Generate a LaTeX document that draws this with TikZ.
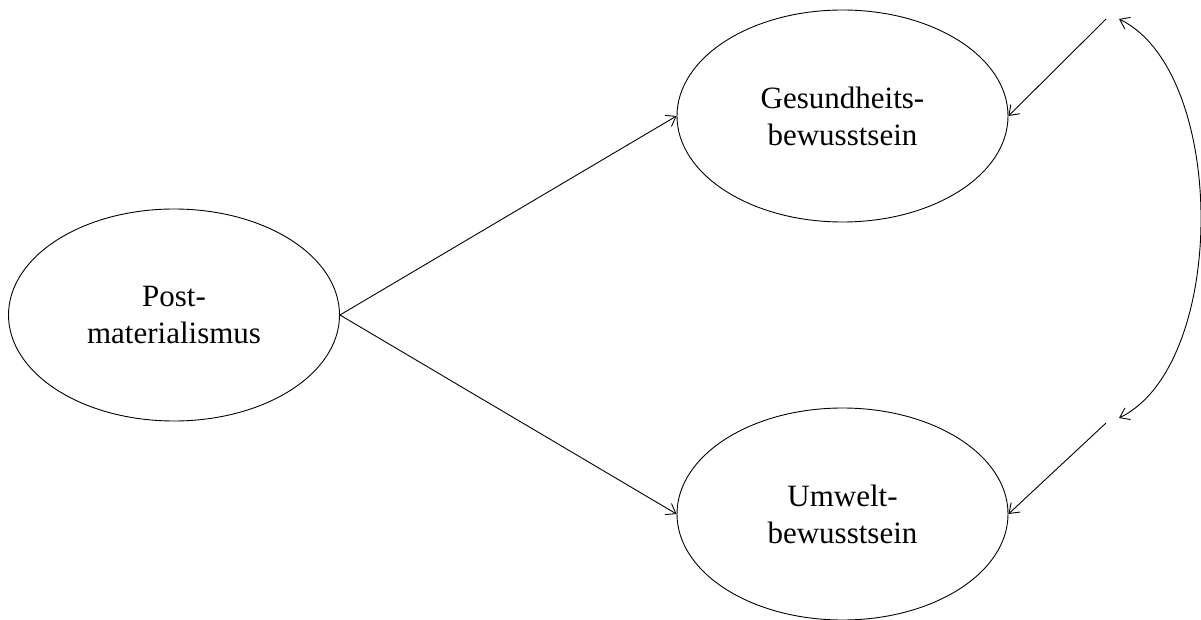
\documentclass[tikz,border=0pt]{standalone}
\usepackage{fontspec}
\setmainfont{Liberation Serif}
\usetikzlibrary{shapes.geometric,arrows.meta}

\tikzset{
  construct/.style={draw, ellipse, inner sep=0pt, line width=0.9pt,
    minimum width=331pt, minimum height=212pt, align=center,
    font=\fontsize{31}{37}\selectfont},
  path/.style={draw, line width=0.9pt,
    -{Straight Barb[length=9pt,width=13pt,line width=0.9pt]}},
  covar/.style={draw, line width=0.9pt,
    {Straight Barb[length=9pt,width=13pt,line width=0.9pt]}-{Straight Barb[length=9pt,width=13pt,line width=0.9pt]}}
}

\begin{document}
\begin{tikzpicture}[x=1pt,y=-1pt]
  \useasboundingbox (0,0) rectangle (1201,620);

  % latent constructs
  \node[construct] (post) at (174,315) {Post-\\materialismus};
  \node[construct] (gesund) at (842.5,116) {Gesundheits-\\bewusstsein};
  \node[construct] (umwelt) at (842.5,514) {Umwelt-\\bewusstsein};

  % residual terms
  \coordinate (eg) at (1106,19);
  \coordinate (eu) at (1106,423);
  \coordinate (cg) at (1119,19);
  \coordinate (cu) at (1119,418);

  % structural paths
  \draw[path] (post.east) -- (gesund.west);
  \draw[path] (post.east) -- (umwelt.west);

  % residual arrows
  \draw[path] (eg) -- (gesund.east);
  \draw[path] (eu) -- (umwelt.east);

  % residual covariance
  \draw[covar] (cg) .. controls (1228,72) and (1228,365) .. (cu);
\end{tikzpicture}
\end{document}
